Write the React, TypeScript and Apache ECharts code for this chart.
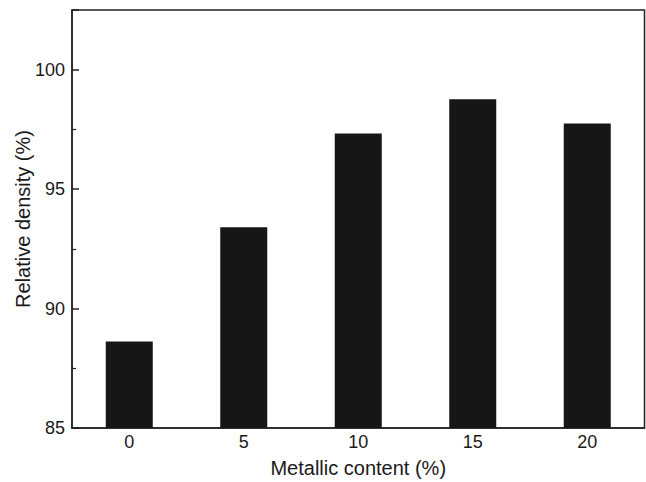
import React, { useEffect, useRef } from "react";
import * as echarts from "echarts";

const categories = ["0", "5", "10", "15", "20"];
const densityValues = [88.62, 93.4, 97.33, 98.76, 97.75];
const yMin = 85;
const yMax = 102.5;
const yInterval = 5;

export default function App() {
  const ref = useRef<HTMLDivElement>(null);
  useEffect(() => {
    if (!ref.current) return;
    const chart = echarts.init(ref.current, null, { renderer: "svg" });
    const font = "Liberation Sans, Arial, Helvetica, sans-serif";
    chart.setOption({
      animation: false,
      backgroundColor: "#ffffff",
      grid: {
        left: 72,
        right: 1.5,
        top: 10,
        bottom: 54,
        containLabel: false,
        outerBoundsMode: "none",
        show: true,
        borderColor: "#222222",
        borderWidth: 1.5,
        backgroundColor: "transparent",
      },
      xAxis: {
        type: "category",
        data: categories,
        boundaryGap: true,
        axisLine: { show: true, lineStyle: { color: "#222222", width: 1.5 } },
        axisTick: { show: false },
        axisLabel: { color: "#1a1a1a", fontSize: 18, fontFamily: font, margin: 5 },
        name: "Metallic content (%)",
        nameLocation: "middle",
        nameGap: 30,
        nameMoveOverlap: false,
        nameTextStyle: { color: "#1a1a1a", fontSize: 20, fontFamily: font },
        splitLine: { show: false },
      },
      yAxis: {
        type: "value",
        min: yMin,
        max: yMax,
        interval: yInterval,
        axisLine: { show: true, lineStyle: { color: "#222222", width: 1.5 } },
        axisTick: { show: true, inside: true, length: 7, lineStyle: { color: "#222222", width: 1.5 } },
        minorTick: { show: true, splitNumber: 2, length: 4, lineStyle: { color: "#222222", width: 1.2 } },
        axisLabel: {
          color: "#1a1a1a",
          fontSize: 18,
          fontFamily: font,
          margin: 7,
          showMaxLabel: false,
        },
        splitLine: { show: false },
        name: "Relative density (%)",
        nameLocation: "middle",
        nameGap: 39,
        nameMoveOverlap: false,
        nameRotate: 90,
        nameTextStyle: { color: "#1a1a1a", fontSize: 20, fontFamily: font },
      },
      series: [
        {
          type: "bar",
          data: densityValues,
          barWidth: 47,
          itemStyle: { color: "#161616" },
        },
      ],
    });
    return () => chart.dispose();
  }, []);
  return <div ref={ref} style={{ width: 646, height: 482, position: "absolute", left: 0, top: 0 }} />;
}
